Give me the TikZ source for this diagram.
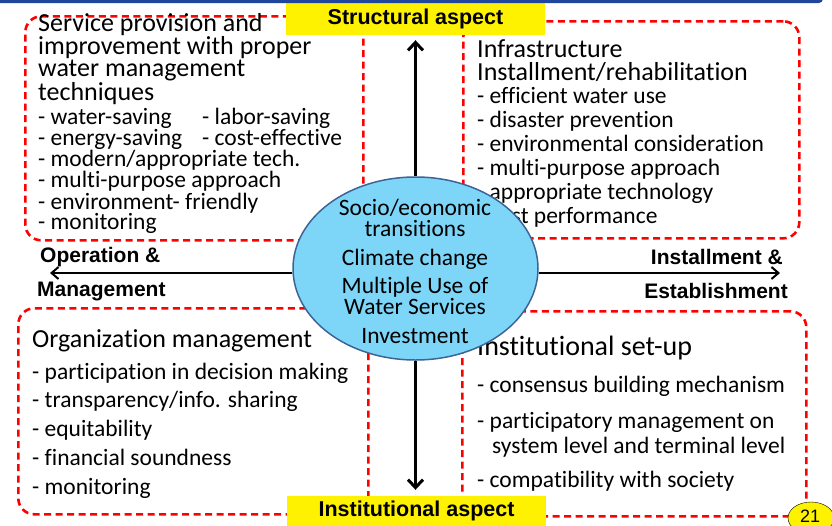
\documentclass[tikz,border=0pt]{standalone}
\usepackage{fontspec}
\setmainfont{Carlito}[Ligatures=NoCommon]
\newfontfamily\gothic{Liberation Sans}
\usepackage{xcolor}
\usetikzlibrary{shapes.geometric}
\usetikzlibrary{arrows.meta}
\definecolor{dashred}{RGB}{255,0,0}
\definecolor{hubblue}{RGB}{125,214,248}
\definecolor{hubedge}{RGB}{62,100,150}
\definecolor{barblue}{RGB}{32,70,155}
\tikzstyle{areabox} = [draw=dashred, line width=2.6pt, dash pattern=on 7pt off 4.5pt,
rounded corners=16pt, rectangle, anchor=north west, inner sep=0pt]
\tikzstyle{headtext} = [anchor=base west, inner sep=0pt, align=left]
\tikzstyle{itemtext} = [anchor=base west, inner sep=0pt, align=left]
\tikzstyle{aspect} = [fill=yellow, inner sep=0pt, font=\gothic\bfseries\fontsize{21.5}{24}\selectfont]
\tikzstyle{axislabel} = [inner sep=0pt, font=\gothic\bfseries\fontsize{21}{24}\selectfont]
\tikzstyle{axisarrow} = [-{Straight Barb[length=7pt,width=12pt]}, line width=2pt]

\begin{document}
\begin{tikzpicture}[x=1pt, y=-1pt]
        \useasboundingbox (0,0) rectangle (832,525);
        % dashed areas
        \node [areabox, minimum width=338pt, minimum height=224pt] (opbox) at (24,15) {};
        \node [areabox, minimum width=336pt, minimum height=217pt] (infbox) at (462,20) {};
        \node [areabox, minimum width=350pt, minimum height=206pt] (orgbox) at (17,307) {};
        \node [areabox, minimum width=344pt, minimum height=205pt] (setbox) at (461,310) {};
        % texts of the areas (placed at the baseline of their last line)
        \node [headtext, font=\fontsize{26}{21.7}\selectfont] (ophead) at (38,100)
            {Service provision and\\improvement with proper\\water management\\techniques};
        \node [itemtext, font=\fontsize{23.5}{20}\selectfont] (opitems) at (38,229)
            {\makebox[164pt][l]{- water-saving}- labor-saving\\
             \makebox[164pt][l]{- energy-saving}- cost-effective\\
             - modern/appropriate tech.\\- multi-purpose approach\\
             - environment- friendly\\- monitoring};
        \node [headtext, font=\fontsize{26}{23}\selectfont] (infhead) at (477,80)
            {Infrastructure\\Installment/rehabilitation};
        \node [itemtext, font=\fontsize{23.5}{24}\selectfont] (infitems) at (477,223)
            {- efficient water use\\- disaster prevention\\- environmental consideration\\
             - multi-purpose approach\\- appropriate technology\\- cost performance};
        \node [headtext, font=\fontsize{26}{28}\selectfont] (orghead) at (32,347)
            {Organization management};
        \node [itemtext, font=\fontsize{23.5}{28.75}\selectfont] (orgitems) at (32,494)
            {- participation in decision making\\- transparency/info. sharing\\
             - equitability\\- financial soundness\\- monitoring};
        \node [headtext, font=\fontsize{28}{30}\selectfont] (sethead) at (477,355)
            {Institutional set-up};
        \node [itemtext, font=\fontsize{23.5}{25}\selectfont] (setitems) at (477,487)
            {- consensus building mechanism\\[11pt]
             - participatory management on\\
             \hspace*{15pt}system level and terminal level\\[9pt]
             - compatibility with society};
        % centre
        \node [ellipse, draw=hubedge, line width=1.5pt, fill=hubblue,
            minimum width=245pt, minimum height=183pt] (hub) at (415.5,268.5) {};
        \node [anchor=base, inner sep=0pt, align=center, font=\fontsize{23.5}{21}\selectfont]
            (hubtext) at (415,343)
            {Socio/economic\\transitions\\[8pt]Climate change\\[7pt]
             Multiple Use of\\Water Services\\[8pt]Investment};
        % aspects
        \node [aspect, minimum width=259pt, minimum height=32pt] (structural) at (415.5,19)
            {Structural aspect};
        \node [aspect, minimum width=259pt, minimum height=30pt] (institutional) at (416.5,511)
            {Institutional aspect};
        \fill [barblue, rounded corners=4pt] (-10,-10) rectangle (823,3);
        % axes
        \coordinate (westend) at (50,273);
        \coordinate (eastend) at (780,273);
        \draw [axisarrow, line width=3pt, -{Straight Barb[length=8pt,width=15pt]}, shorten >=5pt]
            (hub.north) -- (hub.north |- structural.south);
        \draw [axisarrow, line width=3pt, -{Straight Barb[length=8pt,width=15pt]}, shorten >=6pt]
            (hub.south) -- (hub.south |- institutional.north);
        \draw [axisarrow] (hub.west |- westend) -- (westend);
        \draw [axisarrow] (hub.east |- eastend) -- (eastend);
        \node [axislabel, anchor=base west] (oplabel) at (40,262) {Operation \&};
        \node [axislabel, anchor=base west] (mglabel) at (37,296) {Management};
        \node [axislabel, anchor=base east] (inlabel) at (783,264) {Installment \&};
        \node [axislabel, anchor=base east] (eslabel) at (788,298) {Establishment};
        \node [ellipse, draw, fill=yellow, minimum width=46pt, minimum height=32pt, inner sep=0pt] (pageno) at (811,518) {};
        \node [anchor=base, inner sep=0pt, font=\gothic\fontsize{18}{20}\selectfont] (pagenum) at (810,522) {21};
    \end{tikzpicture}
\end{document}
